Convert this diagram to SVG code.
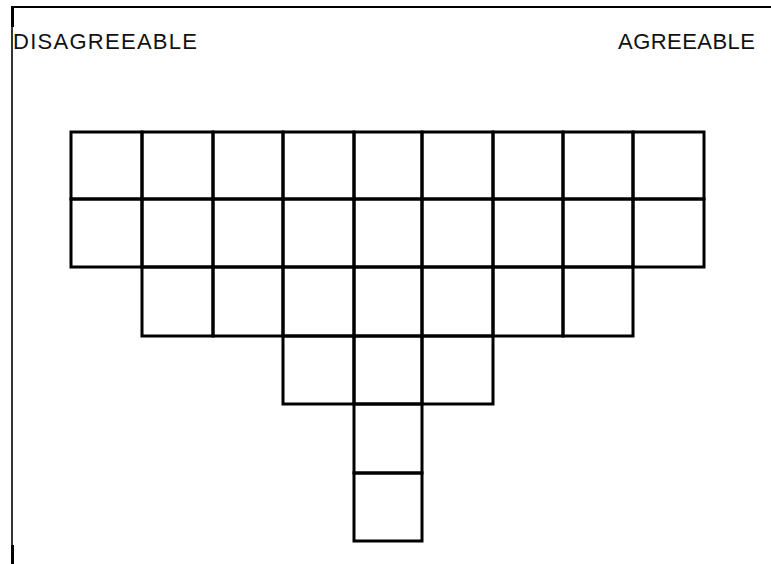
<svg xmlns="http://www.w3.org/2000/svg" width="771" height="564" viewBox="0 0 771 564">
<style>
.c{fill:none;stroke:#000;stroke-width:3}
.b{stroke:#000;fill:none}
.t{font-family:"Liberation Sans",Arial,sans-serif;font-size:22px;fill:#111}
</style>
<rect width="771" height="564" fill="#fff"/>
<g id="frame">
<line class="b" x1="12" y1="7" x2="771" y2="7" stroke-width="2"/>
<line class="b" x1="12" y1="6" x2="12" y2="564" stroke-width="1.6"/>
<line class="b" x1="12.5" y1="6" x2="12.5" y2="27" stroke-width="3"/>
<line class="b" x1="12.5" y1="545" x2="12.5" y2="564" stroke-width="3"/>
</g>
<g id="labels">
<text class="t" x="13" y="49" textLength="184" lengthAdjust="spacing">DISAGREEABLE</text>
<text class="t" x="618" y="49" textLength="137" lengthAdjust="spacing">AGREEABLE</text>
</g>
<g id="row1">
<rect class="c" x="71" y="132" width="71" height="67"/>
<rect class="c" x="142" y="132" width="71" height="67"/>
<rect class="c" x="213" y="132" width="70" height="67"/>
<rect class="c" x="283" y="132" width="71" height="67"/>
<rect class="c" x="354" y="132" width="68" height="67"/>
<rect class="c" x="422" y="132" width="71" height="67"/>
<rect class="c" x="493" y="132" width="70" height="67"/>
<rect class="c" x="563" y="132" width="70" height="67"/>
<rect class="c" x="633" y="132" width="71" height="67"/>
</g>
<g id="row2">
<rect class="c" x="71" y="199" width="71" height="68"/>
<rect class="c" x="142" y="199" width="71" height="68"/>
<rect class="c" x="213" y="199" width="70" height="68"/>
<rect class="c" x="283" y="199" width="71" height="68"/>
<rect class="c" x="354" y="199" width="68" height="68"/>
<rect class="c" x="422" y="199" width="71" height="68"/>
<rect class="c" x="493" y="199" width="70" height="68"/>
<rect class="c" x="563" y="199" width="70" height="68"/>
<rect class="c" x="633" y="199" width="71" height="68"/>
</g>
<g id="row3">
<rect class="c" x="142" y="267" width="71" height="69"/>
<rect class="c" x="213" y="267" width="70" height="69"/>
<rect class="c" x="283" y="267" width="71" height="69"/>
<rect class="c" x="354" y="267" width="68" height="69"/>
<rect class="c" x="422" y="267" width="71" height="69"/>
<rect class="c" x="493" y="267" width="70" height="69"/>
<rect class="c" x="563" y="267" width="70" height="69"/>
</g>
<g id="row4">
<rect class="c" x="283" y="336" width="71" height="68"/>
<rect class="c" x="354" y="336" width="68" height="68"/>
<rect class="c" x="422" y="336" width="71" height="68"/>
</g>
<g id="row5">
<rect class="c" x="354" y="404" width="68" height="69"/>
</g>
<g id="row6">
<rect class="c" x="354" y="473" width="68" height="68"/>
</g>
</svg>
